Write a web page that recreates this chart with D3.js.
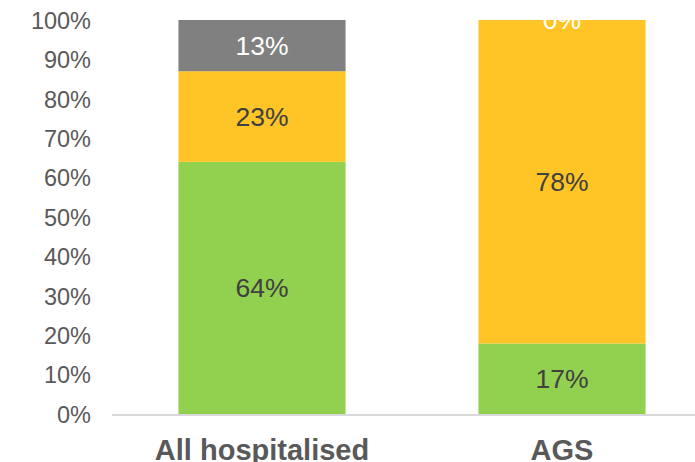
<!DOCTYPE html>
<html><head><meta charset="utf-8">
<script src="https://cdn.jsdelivr.net/npm/d3@7"></script>
<style>html,body{margin:0;padding:0;background:#fff;overflow:hidden}svg{display:block}</style>
</head><body>
<svg id="c" width="695" height="462"></svg>
<script>
const categories = ["All hospitalised", "AGS"];
const seriesNames = ["green", "yellow", "grey"];
const greenValues = [64, 17];
const yellowValues = [23, 78];
const greyValues = [13, 0];
const yTicks = [0, 0.1, 0.2, 0.3, 0.4, 0.5, 0.6, 0.7, 0.8, 0.9, 1.0];

const colors = {green: "#92D050", yellow: "#FFC425", grey: "#808080"};
const labelColors = {green: "#404040", yellow: "#404040", grey: "#FFFFFF"};

const rows = categories.map((c, i) => ({cat: c, green: greenValues[i], yellow: yellowValues[i], grey: greyValues[i]}));
const stack = d3.stack().keys(seriesNames).offset(d3.stackOffsetExpand);
const stacked = stack(rows);

const svg = d3.select("#c");
const x = d3.scaleBand().domain(categories).range([112, 712]).paddingInner(0.443).paddingOuter(0.2215);
const y = d3.scaleLinear().domain([0, 1]).range([414, 20]);

// y tick labels
const yAxis = d3.axisLeft(y).tickValues(yTicks).tickFormat(d3.format(".0%")).tickSize(0).tickPadding(0);
const ya = svg.append("g").attr("transform", "translate(91,0)").call(yAxis);
ya.select(".domain").remove();
ya.selectAll("text").attr("font-family", "Liberation Sans, Arial, sans-serif").attr("font-size", 23.5).attr("fill", "#595959").attr("dy", "0.35em");

// bars
const layers = svg.append("g").selectAll("g").data(stacked).join("g").attr("fill", d => colors[d.key]);
layers.selectAll("rect").data(d => d.map(p => ({p, key: d.key}))).join("rect")
  .attr("x", d => x(d.p.data.cat))
  .attr("width", x.bandwidth())
  .attr("y", d => y(d.p[1]))
  .attr("height", d => y(d.p[0]) - y(d.p[1]));

// x axis line
svg.append("line").attr("x1", 112).attr("x2", 695).attr("y1", 415).attr("y2", 415)
  .attr("stroke", "#D9D9D9").attr("stroke-width", 2);

// data labels
const lab = svg.append("g");
stacked.forEach(s => {
  s.forEach(p => {
    lab.append("text")
      .attr("x", x(p.data.cat) + x.bandwidth() / 2)
      .attr("y", y((p[0] + p[1]) / 2))
      .attr("dy", "0.35em")
      .attr("text-anchor", "middle")
      .attr("font-family", "Liberation Sans, Arial, sans-serif")
      .attr("font-size", 26.5)
      .attr("fill", labelColors[s.key])
      .text(p.data[s.key] + "%");
  });
});

// category labels
const xAxis = d3.axisBottom(x).tickSize(0).tickPadding(0);
const xa = svg.append("g").attr("transform", "translate(0,0)").call(xAxis);
xa.select(".domain").remove();
xa.selectAll("text").attr("font-family", "Liberation Sans, Arial, sans-serif").attr("font-weight", "bold")
  .attr("font-size", 29).attr("fill", "#595959").attr("y", 460).attr("dy", 0);
</script>
</body></html>
